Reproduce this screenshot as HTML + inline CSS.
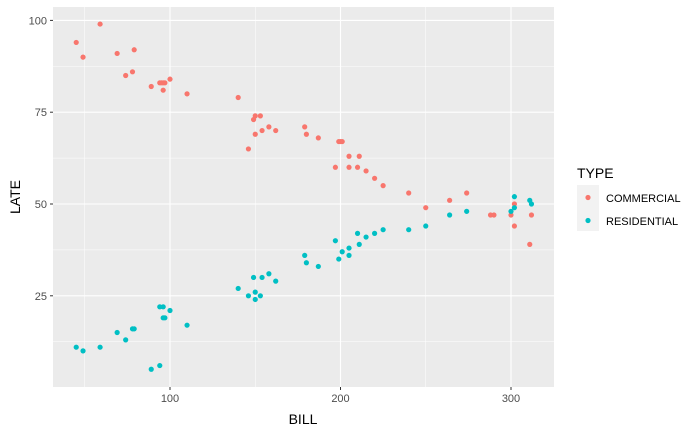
<!DOCTYPE html>
<html><head><meta charset="utf-8"><style>
body{margin:0;background:#fff}
svg{display:block;font-family:"Liberation Sans",Arial,sans-serif}
</style></head><body>
<svg id="chart" width="700" height="432">
<rect x="53" y="7" width="501" height="380" fill="#ebebeb"/>
<g id="grid"></g><g id="pts"></g><g id="axes"></g>
<text x="303" y="424" font-size="14" text-anchor="middle" fill="#000">BILL</text>
<text transform="translate(20,197) rotate(-90)" font-size="14" text-anchor="middle" fill="#000">LATE</text>
<g>
<text x="577" y="178" font-size="14" fill="#000">TYPE</text>
<rect x="577" y="185" width="22" height="46" fill="#f2f2f2"/>
<circle cx="588" cy="197.5" r="2.6" fill="#F8766D"/>
<circle cx="588" cy="220.5" r="2.6" fill="#00BFC4"/>
<text x="606" y="202" font-size="11" fill="#000">COMMERCIAL</text>
<text x="606" y="225" font-size="11" fill="#000">RESIDENTIAL</text>
</g>
</svg>
<script>
const xTicks=[100,200,300];
const yTicks=[25,50,75,100];
const comBill=[45,49,59,69,79,74,78,89,94,95,96,97,96,100,110,140,146,149,150,150,153,154,158,162,179,180,187,199,200,201,205,211,197,205,210,215,220,225,240,250,264,274,288,290,300,302,302,312,311];
const comLate=[94,90,99,91,92,85,86,82,83,83,83,83,81,84,80,79,65,73,74,69,74,70,71,70,71,69,68,67,67,67,63,63,60,60,60,59,57,55,53,49,51,53,47,47,47,50,44,47,39];
const resBill=[45,49,59,69,74,78,79,89,94,94,96,96,97,100,110,140,146,149,150,150,153,154,158,162,179,180,187,197,199,201,205,205,210,211,215,220,225,240,250,264,274,300,302,302,311,312];
const resLate=[11,10,11,15,13,16,16,5,6,22,22,19,19,21,17,27,25,30,26,24,25,30,31,29,36,34,33,40,35,37,38,36,42,39,41,42,43,43,44,47,48,48,49,52,51,50];
const xs=v=>170+(v-100)*1.705;
const ys=v=>204-(v-50)*3.672;
const NS="http://www.w3.org/2000/svg";
function mk(tag,attrs,parent){const e=document.createElementNS(NS,tag);for(const k in attrs)e.setAttribute(k,attrs[k]);parent.appendChild(e);return e;}
const grid=document.getElementById('grid'),axes=document.getElementById('axes'),pts=document.getElementById('pts');
for(let i=0;i<xTicks.length;i++){
  const v=xTicks[i];
  const l=mk('line',{x1:xs(v),x2:xs(v),y1:7,y2:387,stroke:'#fff','stroke-width':1.1},grid);
  
  
  const m=mk('line',{x1:xs(v-50),x2:xs(v-50),y1:7,y2:387,stroke:'#fff','stroke-width':0.5},grid);
  
  
  mk('line',{x1:xs(v),x2:xs(v),y1:387,y2:390,stroke:'#333','stroke-width':1},axes);
  const t=mk('text',{x:xs(v),y:402,'font-size':11,'text-anchor':'middle',fill:'#4d4d4d'},axes);
  t.textContent=v;
  
  
}
const m3=mk('line',{x1:xs(350),x2:xs(350),y1:7,y2:387,stroke:'#fff','stroke-width':0.5},grid);
for(let i=0;i<yTicks.length;i++){
  const v=yTicks[i];
  const l=mk('line',{x1:53,x2:554,y1:ys(v),y2:ys(v),stroke:'#fff','stroke-width':1.1},grid);
  
  
  if(v>25){const m=mk('line',{x1:53,x2:554,y1:ys(v-12.5),y2:ys(v-12.5),stroke:'#fff','stroke-width':0.5},grid);
  
  }
  mk('line',{x1:50,x2:53,y1:ys(v),y2:ys(v),stroke:'#333','stroke-width':1},axes);
  const t=mk('text',{x:47,y:ys(v)+4,'font-size':11,'text-anchor':'end',fill:'#4d4d4d'},axes);
  t.textContent=v;
  
  
}
const m0=mk('line',{x1:53,x2:554,y1:ys(12.5),y2:ys(12.5),stroke:'#fff','stroke-width':0.5},grid);
for(let i=0;i<comBill.length;i++){
  const c=mk('circle',{cx:xs(comBill[i]),cy:ys(comLate[i]),r:2.6,fill:'#F8766D'},pts);
  
  
}
for(let i=0;i<resBill.length;i++){
  const c=mk('circle',{cx:xs(resBill[i]),cy:ys(resLate[i]),r:2.6,fill:'#00BFC4'},pts);
  
  
}
</script>
</body></html>
